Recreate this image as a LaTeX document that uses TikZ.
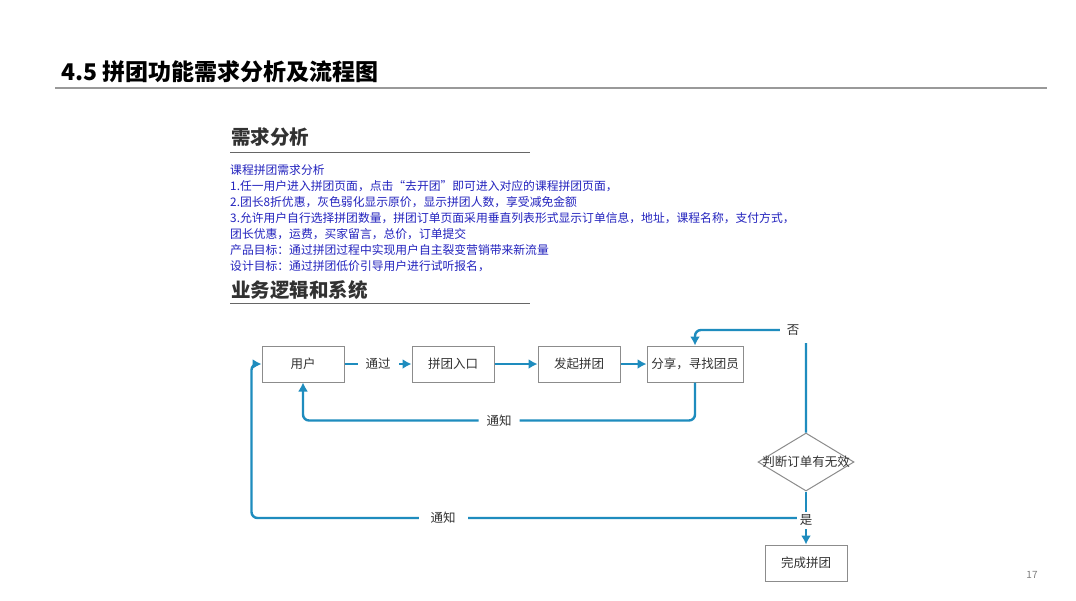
\documentclass[tikz,border=0pt]{standalone}
\usepackage{fontspec}
\setmainfont{Noto Sans CJK SC}
\usetikzlibrary{shapes.geometric,arrows.meta}
\definecolor{flow}{RGB}{30,140,190}
\definecolor{boxline}{RGB}{140,140,140}
\definecolor{reqblue}{RGB}{35,35,190}
\definecolor{txt}{RGB}{50,50,50}
\begin{document}
\begin{tikzpicture}[x=1pt,y=-1pt,
  box/.style={draw=boxline, line width=1pt, minimum width=82pt, minimum height=36pt, font=\fontsize{12.5}{14}\selectfont, text=txt, inner sep=1pt},
  conn/.style={draw=flow, line width=2.4pt, -{Latex[length=9pt,width=10pt]}},
  lab/.style={fill=white, font=\fontsize{12.5}{14}\selectfont, text=txt, inner xsep=8pt, inner ysep=3pt},
  req/.style={anchor=base west, text=reqblue, font=\fontsize{11.8}{13}\selectfont, inner sep=0pt},
  head/.style={anchor=base west, text=txt, font=\fontsize{19.5}{22}\selectfont\bfseries, inner sep=0pt},
  rule/.style={draw=black!60, line width=1pt}]
\useasboundingbox (0,0) rectangle (1076,600);
\fill[white] (0,0) rectangle (1076,600);
% title
\node[anchor=base west, inner sep=0pt, font=\fontsize{23}{26}\selectfont\bfseries, text=black] (title) at (61,80) {4.5 拼团功能需求分析及流程图};
\draw[draw=black!40, line width=1.2pt] (55,88) -- (1047,88);
% requirement analysis
\node[head] (h1) at (231,144) {需求分析};
\draw[rule] (230,152) -- (530,152);
\node[req] (r1) at (230,174) {课程拼团需求分析};
\node[req] (r2) at (230,190) {1.任一用户进入拼团页面，点击“去开团”即可进入对应的课程拼团页面，};
\node[req] (r3) at (230,206) {2.团长8折优惠，灰色弱化显示原价，显示拼团人数，享受减免金额};
\node[req] (r4) at (230,222) {3.允许用户自行选择拼团数量，拼团订单页面采用垂直列表形式显示订单信息，地址，课程名称，支付方式，};
\node[req] (r5) at (230,238) {团长优惠，运费，买家留言，总价，订单提交};
\node[req] (r6) at (230,254) {产品目标：通过拼团过程中实现用户自主裂变营销带来新流量};
\node[req] (r7) at (230,270) {设计目标：通过拼团低价引导用户进行试听报名，};
\node[head] (h2) at (231,297) {业务逻辑和系统};
\draw[rule] (230,303) -- (530,303);
% flowchart nodes
\node[box] (user) at (303,364) {用户};
\node[box] (entry) at (453,364) {拼团入口};
\node[box] (start) at (579,364) {发起拼团};
\node[box, minimum width=96pt] (share) at (695,364) {分享，寻找团员};
\node[draw=boxline, line width=1pt, diamond, minimum width=96pt, minimum height=58pt, inner sep=0pt,
  label={[font=\fontsize{12.5}{14}\selectfont, text=txt]center:判断订单有无效}] (dia) at (806,462) {};
\node[box] (done) at (806,563) {完成拼团};
\coordinate (no) at (806,330);
\coordinate (yes) at (806,518);
% connectors
\draw[conn] (user) -- node[lab]{通过} (entry);
\draw[conn] (entry) -- (start);
\draw[conn] (start) -- (share);
\draw[conn, rounded corners=6pt] (share.south) -- ++(0,38) -| node[lab, pos=0.25]{通知} (user.south);
\draw[conn, rounded corners=6pt] (dia.north) -- (no) -| (share.north);
\node[fill=white, inner sep=0pt, minimum width=30pt, minimum height=26pt] (nolab) at (795,330) {};
\node[font=\fontsize{12.5}{14}\selectfont, text=txt, inner sep=0pt] (notext) at (793,330) {否};
\draw[conn] (dia.south) -- (done.north);
\draw[conn, rounded corners=6pt] (yes) -| ([xshift=-10pt]user.west) -- (user.west);
\node[lab, inner xsep=12pt] (tz2) at (443,518) {通知};
\node[lab, inner sep=3pt] (yeslab) at (806,520) {是};
% page number
\node[text=black!50, font=\fontsize{10}{12}\selectfont] (pg) at (1032,575) {17};
\end{tikzpicture}
\end{document}
